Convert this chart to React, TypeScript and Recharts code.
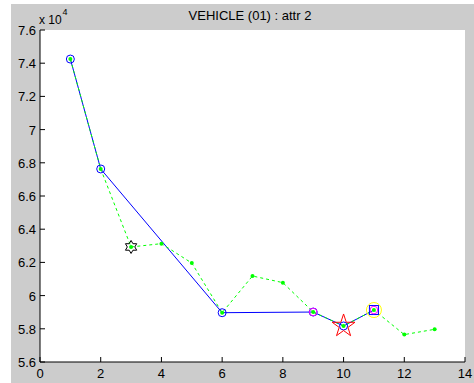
import { ComposedChart, Line, Scatter, XAxis, YAxis, CartesianGrid } from 'recharts';

// sample index on the x axis
const xValues = [1, 2, 3, 4, 5, 6, 7, 8, 9, 10, 11, 12, 13];
// dashed green series (raw values, axis shows them x 10^4)
const greenValues = [74250, 67630, 62930, 63130, 61960, 58970, 61180, 60780, 59010, 58170, 59130, 57650, 57970];
// solid blue series, only defined at a few samples
const blueX = [1, 2, 6, 9, 10, 11];
const blueValues = [74250, 67630, 58970, 59010, 58170, 59130];

// where the extra markers sit
const blueCircleX = [1, 2, 6, 9, 10];
const blueSquareX = [11];
const magentaCircleX = [9, 11];
const yellowCircleX = [11];
const pentagramX = [10];
const hexagramX = [3];

const xTicks = [0, 2, 4, 6, 8, 10, 12, 14];
const yTicks = [56000, 58000, 60000, 62000, 64000, 66000, 68000, 70000, 72000, 74000, 76000];

const greenData = xValues.map((x, i) => ({ x, y: greenValues[i] }));
const blueData = blueX.map((x, i) => ({ x, y: blueValues[i] }));
const pointsAt = (xs: number[]) => xs.map((x) => ({ x, y: greenValues[xValues.indexOf(x)] }));

const FONT = '"Liberation Sans", Arial, Helvetica, sans-serif';

const starPath = (cx: number, cy: number, n: number, rOut: number, rIn: number) => {
  const pts: string[] = [];
  for (let i = 0; i < n * 2; i++) {
    const r = i % 2 === 0 ? rOut : rIn;
    const a = -Math.PI / 2 + (i * Math.PI) / n;
    pts.push(`${cx + r * Math.cos(a)},${cy + r * Math.sin(a)}`);
  }
  return pts.join(' ');
};

const BottomTick = (props: any) => {
  const { x, y, payload } = props;
  return (
    <g>
      <line x1={x} y1={y} x2={x} y2={y - 5} stroke="#000" />
      <text x={x} y={y + 16} textAnchor="middle" fontSize={13} fontFamily={FONT} fill="#000">
        {payload.value}
      </text>
    </g>
  );
};

const TopTick = (props: any) => {
  const { x, y } = props;
  return <line x1={x} y1={y} x2={x} y2={y + 5} stroke="#000" />;
};

const LeftTick = (props: any) => {
  const { x, y, payload } = props;
  return (
    <g>
      <line x1={x} y1={y} x2={x + 5} y2={y} stroke="#000" />
      <text x={x - 4} y={y + 5} textAnchor="end" fontSize={13} fontFamily={FONT} fill="#000">
        {payload.value / 10000}
      </text>
    </g>
  );
};

const RightTick = (props: any) => {
  const { x, y } = props;
  return <line x1={x} y1={y} x2={x - 5} y2={y} stroke="#000" />;
};

export default function App() {
  return (
    <div style={{ position: 'absolute', left: 0, top: 0, width: 474, height: 383, background: '#fff' }}>
      <div style={{ position: 'absolute', left: 11, top: 4, right: 0, bottom: 0, background: '#cccccc' }} />
      <div style={{ position: 'absolute', left: 0, top: 0 }}>
        <ComposedChart width={474} height={383} margin={{ top: 30, right: 9, left: 0, bottom: 0 }}>
          <CartesianGrid horizontal={false} vertical={false} fill="#fff" fillOpacity={1} />
          <XAxis
            dataKey="x"
            type="number"
            domain={[0, 14]}
            ticks={xTicks}
            height={21}
            tickSize={0}
            tickMargin={0}
            tick={<BottomTick />}
            axisLine={{ stroke: '#000' }}
          />
          <XAxis
            xAxisId="top"
            orientation="top"
            type="number"
            domain={[0, 14]}
            ticks={xTicks}
            height={0}
            tickSize={0}
            tickMargin={0}
            tick={<TopTick />}
            axisLine={{ stroke: '#000' }}
          />
          <YAxis
            dataKey="y"
            type="number"
            domain={[56000, 76000]}
            ticks={yTicks}
            width={40}
            tickSize={0}
            tickMargin={0}
            tick={<LeftTick />}
            axisLine={{ stroke: '#000' }}
          />
          <YAxis
            yAxisId="right"
            orientation="right"
            type="number"
            domain={[56000, 76000]}
            ticks={yTicks}
            width={0}
            tickSize={0}
            tickMargin={0}
            tick={<RightTick />}
            axisLine={{ stroke: '#000' }}
          />
          <Line
            data={blueData}
            dataKey="y"
            stroke="#0000ff"
            strokeWidth={1}
            dot={false}
            isAnimationActive={false}
          />
          <Line
            data={greenData}
            dataKey="y"
            stroke="#00ff00"
            strokeWidth={1}
            strokeDasharray="3 3"
            dot={false}
            isAnimationActive={false}
          />
          <Scatter
            data={pointsAt(hexagramX)}
            isAnimationActive={false}
            shape={(p: any) => (
              <polygon points={starPath(p.cx, p.cy, 6, 6.5, 3.75)} fill="none" stroke="#000" />
            )}
          />
          <Scatter
            data={pointsAt(blueCircleX)}
            isAnimationActive={false}
            shape={(p: any) => <circle cx={p.cx} cy={p.cy} r={4} fill="none" stroke="#0000ff" />}
          />
          <Scatter
            data={pointsAt(pentagramX)}
            isAnimationActive={false}
            shape={(p: any) => (
              <polygon points={starPath(p.cx, p.cy, 5, 12, 4.6)} fill="none" stroke="#ff0000" />
            )}
          />
          <Scatter
            data={pointsAt(yellowCircleX)}
            isAnimationActive={false}
            shape={(p: any) => <circle cx={p.cx} cy={p.cy} r={7.5} fill="none" stroke="#ffff00" />}
          />
          <Scatter
            data={pointsAt(blueSquareX)}
            isAnimationActive={false}
            shape={(p: any) => (
              <rect x={p.cx - 4.5} y={p.cy - 4.5} width={9} height={9} fill="none" stroke="#0000ff" />
            )}
          />
          <Scatter
            data={pointsAt(magentaCircleX)}
            isAnimationActive={false}
            shape={(p: any) => <circle cx={p.cx} cy={p.cy} r={3.8} fill="none" stroke="#ff00ff" />}
          />
          <Scatter
            data={greenData}
            isAnimationActive={false}
            shape={(p: any) => <circle cx={p.cx} cy={p.cy} r={2} fill="#00ff00" stroke="none" />}
          />
        </ComposedChart>
      </div>
      <svg
        width={474}
        height={383}
        style={{ position: 'absolute', left: 0, top: 0, pointerEvents: 'none' }}
      >
        <text x={250} y={19.5} textAnchor="middle" fontSize={13} fontFamily={FONT} fill="#000">
          VEHICLE (01) : attr 2
        </text>
        <text x={39} y={24} fontSize={12} fontFamily={FONT} fill="#000">
          x 10
        </text>
        <text x={62.5} y={15} fontSize={9} fontFamily={FONT} fill="#000">
          4
        </text>
      </svg>
    </div>
  );
}
